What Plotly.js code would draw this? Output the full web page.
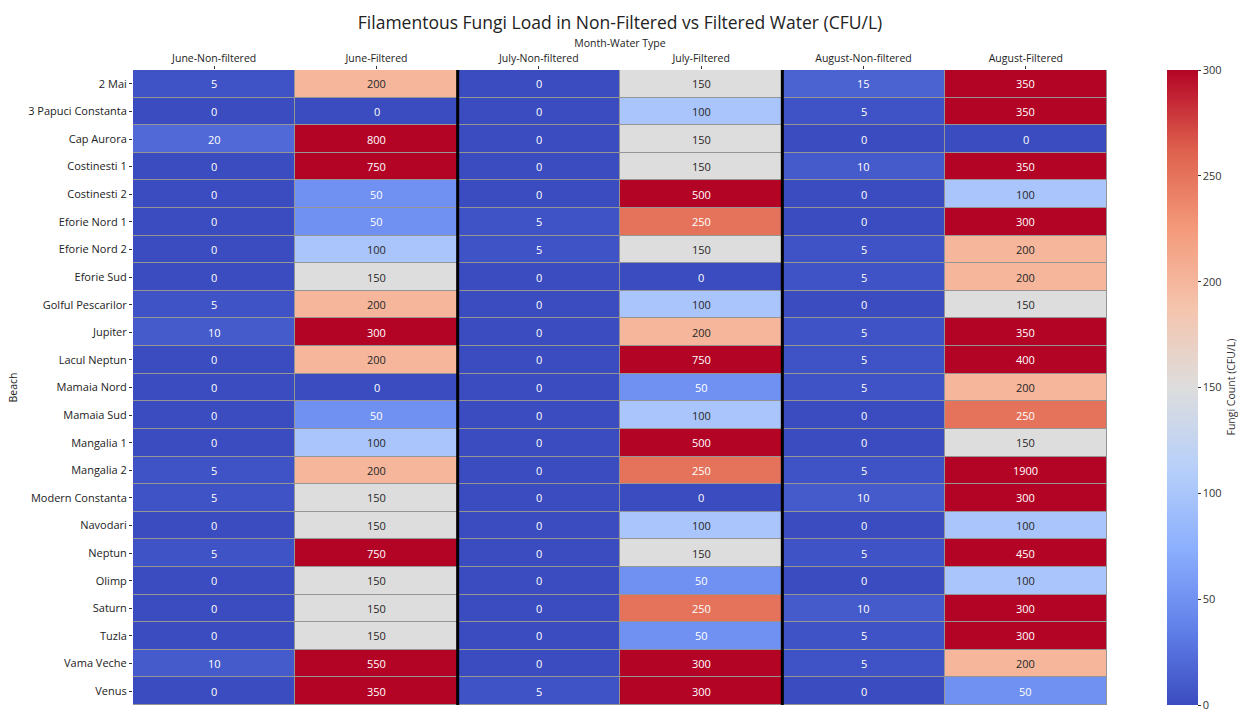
<!DOCTYPE html>
<html>
<head>
<meta charset="utf-8">
<script src="https://cdn.plot.ly/plotly-3.0.1.min.js"></script>
<style>html,body{margin:0;padding:0;background:#fff;}#chart{width:1238px;height:711px;}</style>
</head>
<body>
<div id="chart"></div>
<script>
const columns = ["June-Non-filtered","June-Filtered","July-Non-filtered","July-Filtered","August-Non-filtered","August-Filtered"];
const beaches = ["2 Mai","3 Papuci Constanta","Cap Aurora","Costinesti 1","Costinesti 2","Eforie Nord 1","Eforie Nord 2","Eforie Sud","Golful Pescarilor","Jupiter","Lacul Neptun","Mamaia Nord","Mamaia Sud","Mangalia 1","Mangalia 2","Modern Constanta","Navodari","Neptun","Olimp","Saturn","Tuzla","Vama Veche","Venus"];
const juneNonFiltered   = [5,0,20,0,0,0,0,0,5,10,0,0,0,0,5,5,0,5,0,0,0,10,0];
const juneFiltered      = [200,0,800,750,50,50,100,150,200,300,200,0,50,100,200,150,150,750,150,150,150,550,350];
const julyNonFiltered   = [0,0,0,0,0,5,5,0,0,0,0,0,0,0,0,0,0,0,0,0,0,0,5];
const julyFiltered      = [150,100,150,150,500,250,150,0,100,200,750,50,100,500,250,0,100,150,50,250,50,300,300];
const augustNonFiltered = [15,5,0,10,0,0,5,5,0,5,5,5,0,0,5,10,0,5,0,10,5,5,0];
const augustFiltered    = [350,350,0,350,100,300,200,200,150,350,400,200,250,150,1900,300,100,450,100,300,300,200,50];
const colorbarTicks = [0,50,100,150,200,250,300];

const series = [juneNonFiltered, juneFiltered, julyNonFiltered, julyFiltered, augustNonFiltered, augustFiltered];
const z = beaches.map((b, i) => series.map(s => s[i]));

const coolwarm = [
  [0.0, '#3b4cc0'], [0.125, '#6282ea'], [0.25, '#8db0fe'], [0.375, '#b8d0f9'],
  [0.5, '#dddddd'], [0.625, '#f5c4ad'], [0.75, '#f49a7b'], [0.875, '#de604d'], [1.0, '#b40426']
];

const FONT = 'Open Sans, DejaVu Sans, sans-serif';

const annotations = [];
beaches.forEach((b, i) => {
  series.forEach((s, j) => {
    const v = s[i];
    const dark = v >= 80 && v <= 230;
    annotations.push({
      x: columns[j], y: b, xref: 'x', yref: 'y', text: String(v), showarrow: false,
      font: {family: FONT, size: 11, color: dark ? '#262626' : '#ffffff'}
    });
  });
});
annotations.push({
  text: 'Fungi Count (CFU/L)', xref: 'paper', yref: 'paper', x: 1.1263, y: 0.5,
  xanchor: 'center', yanchor: 'middle', textangle: -90, showarrow: false,
  font: {family: FONT, size: 10.5, color: '#333'}
});

const trace = {
  type: 'heatmap', x: columns, y: beaches, z: z,
  zmin: 0, zmax: 300, colorscale: coolwarm, xgap: 1, ygap: 1,
  hoverongaps: false,
  colorbar: {
    x: 1.0616, xanchor: 'left', xpad: 0, y: 0, yanchor: 'bottom', ypad: 0, len: 1, lenmode: 'fraction',
    thickness: 31, outlinewidth: 0, tickvals: colorbarTicks, ticks: 'outside', ticklen: 3,
    ticklabeloverflow: 'allow',
    tickcolor: '#333', tickfont: {family: FONT, size: 11, color: '#333'}
  }
};

const layout = {
  width: 1238, height: 711,
  margin: {l: 133, r: 131, t: 70, b: 6, autoexpand: false},
  paper_bgcolor: '#ffffff', plot_bgcolor: '#959595',
  title: {text: 'Filamentous Fungi Load in Non-Filtered vs Filtered Water (CFU/L)', x: 0.5, xref: 'paper', y: 0.968, yanchor: 'middle', font: {family: FONT, size: 17.5, color: '#222'}},
  xaxis: {side: 'top', type: 'category', ticks: 'outside', ticklen: 3, tickcolor: '#333',
    tickfont: {family: FONT, size: 10.5, color: '#222'}, showgrid: false, zeroline: false,
    title: {text: 'Month-Water Type', standoff: 1, font: {family: FONT, size: 10.5, color: '#222'}}},
  yaxis: {type: 'category', autorange: 'reversed', ticks: 'outside', ticklen: 3, tickcolor: '#333',
    tickfont: {family: FONT, size: 11, color: '#222'}, showgrid: false, zeroline: false,
    title: {text: 'Beach', standoff: 8, font: {family: FONT, size: 10.5, color: '#222'}}},
  shapes: [1.5, 3.5].map(xv => ({type: 'line', xref: 'x', yref: 'paper', x0: xv, x1: xv, y0: 0, y1: 1, line: {color: '#000', width: 3}})),
  annotations: annotations
};

Plotly.newPlot('chart', [trace], layout, {displayModeBar: false, responsive: false});
</script>
</body>
</html>
